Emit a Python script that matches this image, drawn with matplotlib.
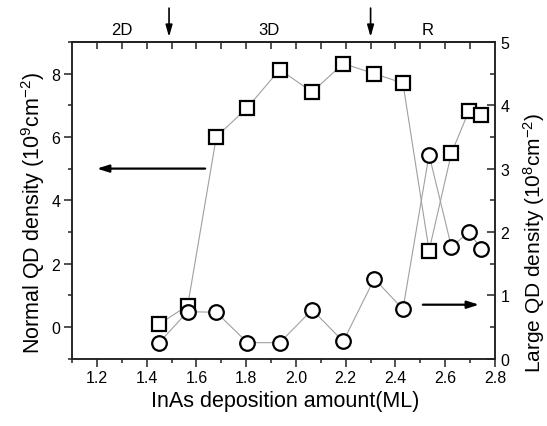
import numpy as np
import matplotlib.pyplot as plt
from matplotlib.ticker import MultipleLocator

plt.rcParams['font.family'] = ['Liberation Sans', 'DejaVu Sans']
plt.rcParams['mathtext.default'] = 'regular'

# InAs deposition amount (ML)
ml = [1.45, 1.565, 1.68, 1.805, 1.935, 2.065, 2.19, 2.315, 2.43, 2.535, 2.625, 2.695, 2.745]
# normal QD density (1e9 cm^-2), left axis
normal = [0.09, 0.67, 6.0, 6.93, 8.13, 7.42, 8.32, 8.0, 7.7, 2.41, 5.49, 6.82, 6.70]
# large QD density (1e8 cm^-2), right axis
large = [0.25, 0.74, 0.73, 0.25, 0.25, 0.77, 0.27, 1.26, 0.78, 3.22, 1.76, 2.0, 1.73]

# growth regimes along the top
phases = ['2D', '3D', 'R']
phase_x = [1.30, 1.89, 2.53]
bounds = [1.49, 2.30]

fig = plt.figure(figsize=(5.47, 4.27), dpi=100)
ax = fig.add_axes([72/547, 1-359.5/427, 423/547, 316.5/427])
ax2 = ax.twinx()

line_kw = dict(color='#a0a0a0', lw=0.8, mec='black', mfc='white', mew=1.6)
ax.plot(ml, normal, marker='s', ms=9.5, **line_kw)
ax2.plot(ml, large, marker='o', ms=10.5, **line_kw)

ax.set_xlim(1.1, 2.8)
ax.set_ylim(-1, 9)
ax2.set_ylim(0, 5)

ax.xaxis.set_major_locator(MultipleLocator(0.2))
ax.xaxis.set_minor_locator(MultipleLocator(0.1))
ax.yaxis.set_major_locator(MultipleLocator(2))
ax.yaxis.set_minor_locator(MultipleLocator(1))
ax2.yaxis.set_major_locator(MultipleLocator(1))
ax2.yaxis.set_minor_locator(MultipleLocator(0.5))
ax.xaxis.set_major_formatter(lambda v, p: '%.1f' % v)

ax.tick_params(which='both', direction='out', labelsize=11.5, width=1.1,
               colors='#222222', labelcolor='black')
ax.tick_params(which='major', length=5.5, pad=3)
ax.tick_params(which='minor', length=3)
ax2.tick_params(which='both', direction='in', labelsize=11.5, width=1.1,
                colors='#222222', labelcolor='black')
ax2.tick_params(which='major', length=5.5, pad=4)
ax2.tick_params(which='minor', length=3.5)

# top axis: inward ticks every 0.1, no labels
top = ax.secondary_xaxis('top')
top.set_xticks(np.arange(1.2, 2.75, 0.1))
top.tick_params(direction='in', length=5, width=1.1, colors='#222222',
                labeltop=False)

for a in (ax, ax2, top):
    for s in a.spines.values():
        s.set_linewidth(1.1)
        s.set_color('#222222')

arrow_kw = dict(arrowstyle='-|>,head_length=0.7,head_width=0.22', lw=1.6, color='black',
                shrinkA=0, shrinkB=0)
ax.annotate('', xy=(1.2, 5), xytext=(1.635, 5), arrowprops=arrow_kw)
ax2.annotate('', xy=(2.736, 0.85), xytext=(2.51, 0.85), arrowprops=arrow_kw)

for b in bounds:
    ax.annotate('', xy=(b, 1.016), xytext=(b, 1.107),
                xycoords=('data', 'axes fraction'),
                textcoords=('data', 'axes fraction'),
                arrowprops=dict(arrowstyle='-|>,head_length=0.7,head_width=0.2',
                                lw=1.2, color='black', shrinkA=0, shrinkB=0),
                annotation_clip=False)
for name, x in zip(phases, phase_x):
    ax.text(x, 1.041, name, transform=ax.get_xaxis_transform(),
            ha='center', va='center', fontsize=12)

fig.text(285/547, 1-402/427, 'InAs deposition amount(ML)',
         ha='center', va='center', fontsize=15.5)
fig.text(33/547, 1-213/427, r'Normal QD density (10$^9$cm$^{-2}$)',
         ha='center', va='center', rotation=90, fontsize=15.5)
fig.text(534/547, 1-243/427, r'Large QD density (10$^8$cm$^{-2}$)',
         ha='center', va='center', rotation=90, fontsize=15)

fig.savefig('out.png', dpi=100)
